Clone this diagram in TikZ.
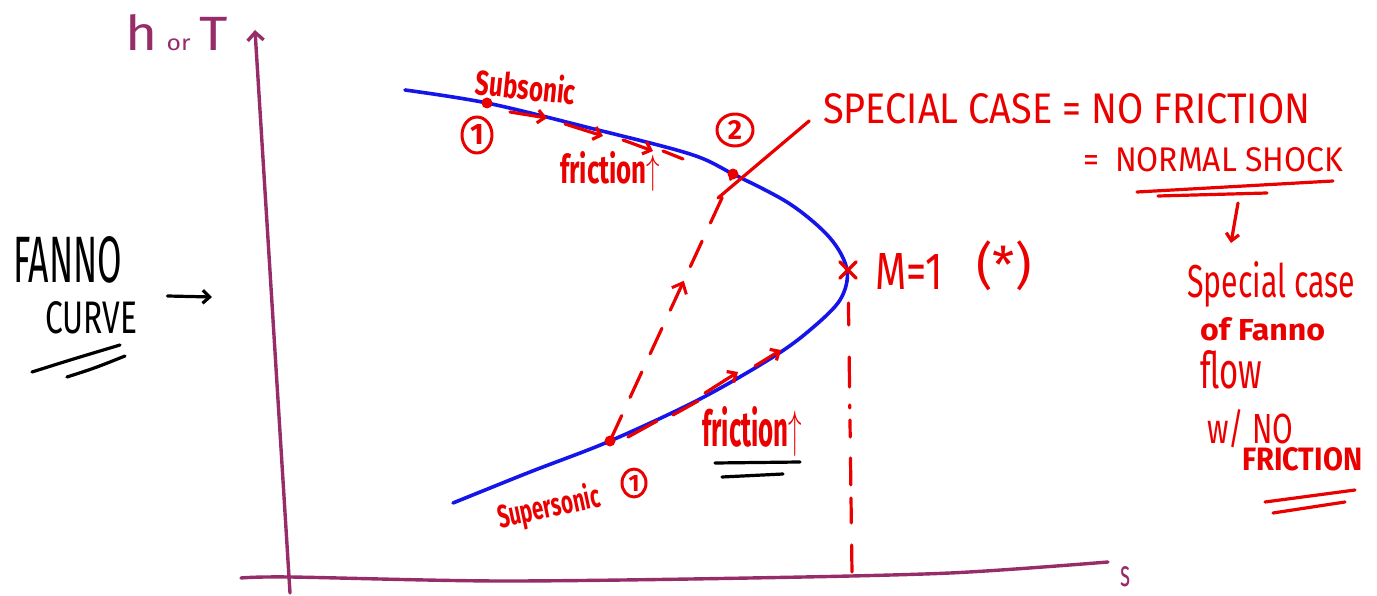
\documentclass[tikz,border=0pt]{standalone}
\usepackage{fontspec}
\setmainfont{Fira Sans}
\usetikzlibrary{arrows.meta,decorations.markings,shapes.geometric}
\definecolor{penred}{RGB}{235,0,0}
\definecolor{penblue}{RGB}{20,20,235}
\definecolor{axispurple}{RGB}{150,45,105}
\begin{document}
\begin{tikzpicture}[x=1pt,y=-1pt,
  pen/.style={draw=penred,line width=3.2pt,line cap=round,line join=round},
  bpen/.style={draw=black,line width=3.2pt,line cap=round,line join=round},
  apen/.style={draw=axispurple,line width=3.4pt,line cap=round,line join=round},
  blpen/.style={draw=penblue,line width=3.6pt,line cap=round,line join=round},
  rtxt/.style={text=penred,inner sep=0pt,font=\fontsize{20}{20}\selectfont},
  rbtxt/.style={text=penred,inner sep=0pt,font=\fontsize{20}{20}\selectfont\bfseries},
  ktxt/.style={text=black,inner sep=0pt,font=\fontsize{20}{20}\selectfont},
  barb/.style={-{Straight Barb[length=7pt,width=13pt]}},
  num/.style={text=penred,inner sep=0pt,font=\fontsize{20}{20}\selectfont\bfseries},
  rdot/.style={circle,fill=penred,inner sep=0pt,minimum size=11pt}
]
\useasboundingbox (0,0) rectangle (1377,596);

% axes
\coordinate (ybot) at (290,593);
\coordinate (ytop) at (255,30);
\draw[apen,-{Straight Barb[length=8pt,width=16pt]}] (ybot) -- (ytop);
\draw[apen] plot[smooth,tension=0.5] coordinates {(241,578) (290,577) (500,581) (750,578) (950,573) (1108,562)};
\node[text=axispurple,inner sep=0pt,anchor=base west] (slab) at (1120,586) {\resizebox{10pt}{20pt}{\fontsize{20}{20}\selectfont s}};
\node[text=axispurple,inner sep=0pt,anchor=base west] (ylab) at (125,51) {\resizebox{103pt}{36pt}{\fontsize{40}{40}\selectfont h\,{\fontsize{18}{18}\selectfont or}\,T}};

% Fanno curve
\draw[blpen] plot[smooth,tension=0.55] coordinates {(405,90) (487,103) (590,128) (690,154) (733,174) (790,204) (830,238) (847,270) (840,300) (810,330) (773,357) (700,399) (610,441) (530,472) (453,503)};

% points
\node[rdot] (sub1) at (487,103) {};
\node[rdot] (p2) at (733,174) {};
\node[rdot] (sup1) at (610,441) {};
\node[inner sep=0pt,minimum size=16pt] (mstar) at (848,270) {};
\draw[pen] (mstar.north west) -- (mstar.south east) (mstar.south west) -- (mstar.north east);

% dashed normal shock line
\draw[pen,dash pattern=on 28pt off 20pt,
  postaction={decorate},
  decoration={markings,mark=at position 0.6 with {\arrow[penred,line width=3pt]{Straight Barb[length=9pt,width=16pt]}}}]
  (sup1.center) -- (p2.center);

% vertical dashed line at M=1
\coordinate (mbot) at (852,573);
\draw[pen,shorten <=33pt,dash pattern=on 22pt off 32pt on 30pt off 18pt on 3pt off 12pt on 17pt off 21pt on 27pt off 13pt on 25pt off 22pt on 27pt off 10pt] (mstar.center) -- (mbot);

% small friction arrows along subsonic branch
\draw[pen,barb] (510,112) -- (547,118);
\draw[pen,barb] (565,124) -- (603,136);
\draw[pen,barb] (623,140) -- (653,151);
\draw[pen] (663,151) -- (683,159);
% along supersonic branch
\draw[pen] (628,437) -- (657,421);
\draw[pen] (673,415) -- (698,401);
\draw[pen,barb] (705,393) -- (738,372);
\draw[pen,barb] (755,366) -- (781,350);

% labels on curve
\node[rbtxt,rotate=-6] (subtxt) at (526,86) {\resizebox{100pt}{28pt}{Subsonic}};
\node[num] (c1a) at (477,135) {\resizebox{!}{20pt}{1}};
\draw[pen,line width=3pt] (c1a.center) ellipse [x radius=15, y radius=18];
\node[rbtxt,anchor=base west] (fr1) at (560,184) {\resizebox{100pt}{32pt}{friction$\uparrow$}};
\node[num] (c2) at (735,130) {\resizebox{!}{19pt}{2}};
\draw[pen,line width=3pt] (c2.center) ellipse [x radius=18, y radius=16];
\node[rbtxt,rotate=12] (suptxt) at (549,508) {\resizebox{104pt}{26pt}{Supersonic}};
\node[num] (c1b) at (634,483) {\resizebox{!}{16pt}{1}};
\draw[pen,line width=3pt] (c1b.center) ellipse [x radius=12, y radius=14];
\node[rbtxt,anchor=base west] (fr2) at (702,446) {\resizebox{100pt}{40pt}{friction$\uparrow$}};
\draw[bpen] (715,463) -- (800,462);
\draw[bpen] (722,477) -- (783,474);

% M = 1
\node[rtxt,anchor=base west] (mlab) at (875,290) {\resizebox{68pt}{36pt}{M=1}};
\node[rtxt] (star) at (1004,266) {\resizebox{55pt}{!}{(*)}};

% special case text
\node[rtxt,anchor=base west] (special) at (823,124) {\resizebox{487pt}{30pt}{SPECIAL CASE = NO FRICTION}};
\coordinate (ptrbot) at (718,198);
\draw[pen,shorten <=18pt] (special.west) -- (ptrbot);
\node[rtxt,anchor=base west] (shock) at (1083,172) {\resizebox{260pt}{24pt}{=\enspace NORMAL SHOCK}};
\draw[pen] (1137,192) -- (1333,181);
\draw[pen] (1158,196) -- (1267,193);
\coordinate (arrtop) at (1238,203);
\coordinate (arrbot) at (1231,243);
\draw[pen,barb] (arrtop) -- (arrbot);

% right column
\node[rtxt,anchor=base west] (rc1) at (1187,298) {\resizebox{168pt}{36pt}{Special case}};
\node[rbtxt,anchor=base west] (rc2) at (1200,340) {\resizebox{125pt}{23pt}{of Fanno}};
\node[rtxt,anchor=base west] (rc3) at (1200,388) {\resizebox{62pt}{38pt}{flow}};
\node[rtxt,anchor=base west] (rc4) at (1207,443) {\resizebox{86pt}{34pt}{w/ NO}};
\node[rbtxt,anchor=base west] (rc5) at (1242,470) {\resizebox{120pt}{23pt}{FRICTION}};
\draw[pen] (1265,502) -- (1355,490);
\draw[pen] (1273,513) -- (1345,502);

% Fanno curve label
\node[ktxt,anchor=base west] (fanno) at (13,283) {\resizebox{109pt}{46pt}{FANNO}};
\node[ktxt,anchor=base west] (curve) at (45,334) {\resizebox{92pt}{32pt}{CURVE}};
\coordinate (karr) at (212,297);
\draw[bpen,barb] (curve.east |- karr) ++(30pt,1pt) -- (karr);
\draw[bpen] (32,372) .. controls (70,360) .. (120,345);
\draw[bpen] (67,377) .. controls (95,368) .. (125,356);
\end{tikzpicture}
\end{document}
